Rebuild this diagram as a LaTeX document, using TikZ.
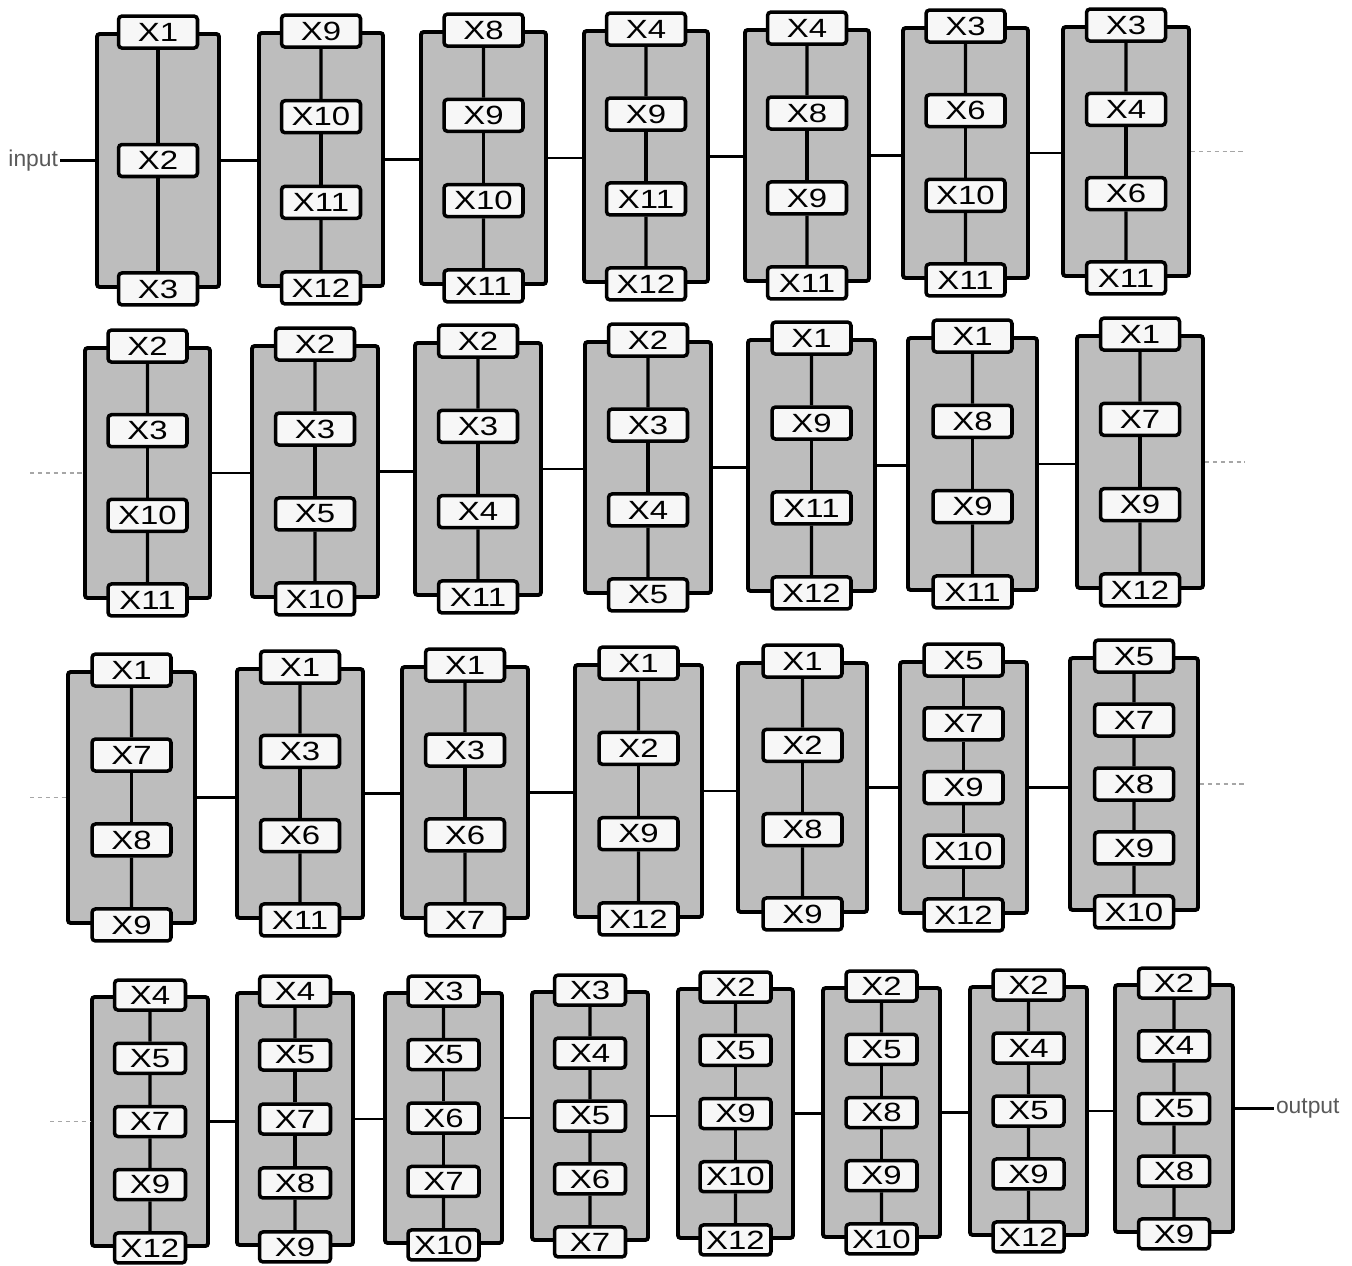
\documentclass[tikz,border=0pt]{standalone}
\usepackage{fontspec}
\setmainfont{Liberation Sans}
\newfontfamily\boxfont{Liberation Sans}[FakeStretch=1.25]
\usepackage{tikz}
\usetikzlibrary{calc,positioning}

\begin{document}
\begin{tikzpicture}[
  x=0.02cm, y=-0.02cm,
  stage/.style={draw=black, fill=gray!52, line width=2.2pt, inner sep=0pt,
    rounded corners=1.5pt},
  comp/.style={draw=black, fill=gray!6, line width=2pt, inner sep=0pt,
    rounded corners=2pt, minimum width=1.58cm, minimum height=0.64cm,
    font=\fontsize{15}{16}\boxfont},
  spine/.style={black, line width=1.8pt},
  wire/.style={black, line width=1.3pt},
  cont/.style={gray!70, line width=0.7pt, dash pattern=on 2.5pt off 2pt},
  termtext/.style={gray!70!black, inner sep=1pt, font=\fontsize{13}{14}\selectfont},
]
  \useasboundingbox (0,0) rectangle (1352,1265);

  % one stage: name, left, right, top, bottom, number of parts, parts
  \def\stageblock#1#2#3#4#5#6#7{
    \node[stage, minimum width={(#3-#2)*0.02cm}, minimum height={(#5-#4)*0.02cm}]
      (#1) at ({(#2+#3)/2},{(#4+#5)/2}) {};
    \foreach \lab [count=\k from 0] in {#7}
      \node[comp] (#1-\k) at ($(#1.north)!{\k/(#6-1)}!(#1.south)$) {\lab};
    \pgfmathtruncatemacro\last{#6-1}
    \foreach \k in {1,...,\last} {
      \pgfmathtruncatemacro\prev{\k-1}
      \draw[spine] (#1-\prev) -- (#1-\k);
    }
  }

  % first row
  \stageblock{a1}{97}{219}{34}{287}{3}{X1,X2,X3}
  \stageblock{a2}{259}{383}{33}{286}{4}{X9,X10,X11,X12}
  \stageblock{a3}{421}{546}{32}{284}{4}{X8,X9,X10,X11}
  \stageblock{a4}{584}{708}{31}{282}{4}{X4,X9,X11,X12}
  \stageblock{a5}{745}{869}{30}{281}{4}{X4,X8,X9,X11}
  \stageblock{a6}{903}{1028}{28}{278}{4}{X3,X6,X10,X11}
  \stageblock{a7}{1063}{1189}{27}{276}{4}{X3,X4,X6,X11}

  % second row
  \stageblock{b1}{85}{210}{348}{598}{4}{X2,X3,X10,X11}
  \stageblock{b2}{252}{378}{346}{597}{4}{X2,X3,X5,X10}
  \stageblock{b3}{415}{541}{343}{595}{4}{X2,X3,X4,X11}
  \stageblock{b4}{585}{711}{342}{593}{4}{X2,X3,X4,X5}
  \stageblock{b5}{748}{875}{340}{591}{4}{X1,X9,X11,X12}
  \stageblock{b6}{908}{1037}{338}{590}{4}{X1,X8,X9,X11}
  \stageblock{b7}{1077}{1203}{336}{588}{4}{X1,X7,X9,X12}

  % third row
  \stageblock{c1}{68}{195}{672}{923}{4}{X1,X7,X8,X9}
  \stageblock{c2}{237}{363}{669}{918}{4}{X1,X3,X6,X11}
  \stageblock{c3}{402}{528}{667}{918}{4}{X1,X3,X6,X7}
  \stageblock{c4}{575}{702}{665}{917}{4}{X1,X2,X9,X12}
  \stageblock{c5}{738}{867}{663}{912}{4}{X1,X2,X8,X9}
  \stageblock{c6}{900}{1027}{662}{913}{5}{X5,X7,X9,X10,X12}
  \stageblock{c7}{1070}{1198}{658}{910}{5}{X5,X7,X8,X9,X10}

  % fourth row, smaller parts
  \begin{scope}[comp/.append style={minimum width=1.42cm, minimum height=0.6cm}]
  \stageblock{d1}{92}{208}{997}{1246}{5}{X4,X5,X7,X9,X12}
  \stageblock{d2}{237}{353}{993}{1245}{5}{X4,X5,X7,X8,X9}
  \stageblock{d3}{385}{502}{993}{1243}{5}{X3,X5,X6,X7,X10}
  \stageblock{d4}{532}{648}{992}{1240}{5}{X3,X4,X5,X6,X7}
  \stageblock{d5}{678}{793}{989}{1238}{5}{X2,X5,X9,X10,X12}
  \stageblock{d6}{823}{940}{988}{1237}{5}{X2,X5,X8,X9,X10}
  \stageblock{d7}{970}{1087}{987}{1235}{5}{X2,X4,X5,X9,X12}
  \stageblock{d8}{1115}{1233}{985}{1232}{5}{X2,X4,X5,X8,X9}
  \end{scope}

  % series links
  \foreach \p/\q in {a1/a2,a2/a3,a3/a4,a4/a5,a5/a6,a6/a7,
                     b1/b2,b2/b3,b3/b4,b4/b5,b5/b6,b6/b7,
                     c1/c2,c2/c3,c3/c4,c4/c5,c5/c6,c6/c7,
                     d1/d2,d2/d3,d3/d4,d4/d5,d5/d6,d6/d7,d7/d8}
    \draw[wire] (\p.east) -- (\p.east -| \q.west);

  % ends
  \node[termtext, left=0.7cm of a1.west] (input) {input};
  \draw[wire] (input) -- (a1.west);
  \node[termtext, right=0.78cm of d8.east] (output) {output};
  \draw[wire] (d8.east) -- (output);

  % row breaks
  \coordinate (a-out) at (1245,151.5);
  \coordinate (b-in) at (30,473);
  \coordinate (b-out) at (1245,462);
  \coordinate (c-in) at (30,797.5);
  \coordinate (c-out) at (1245,784);
  \coordinate (d-in) at (50,1121.5);
  \draw[cont] (a7.east) -- (a-out);
  \draw[cont] (b-in) -- (b1.west);
  \draw[cont] (b7.east) -- (b-out);
  \draw[cont] (c-in) -- (c1.west);
  \draw[cont] (c7.east) -- (c-out);
  \draw[cont] (d-in) -- (d1.west);
\end{tikzpicture}
\end{document}
